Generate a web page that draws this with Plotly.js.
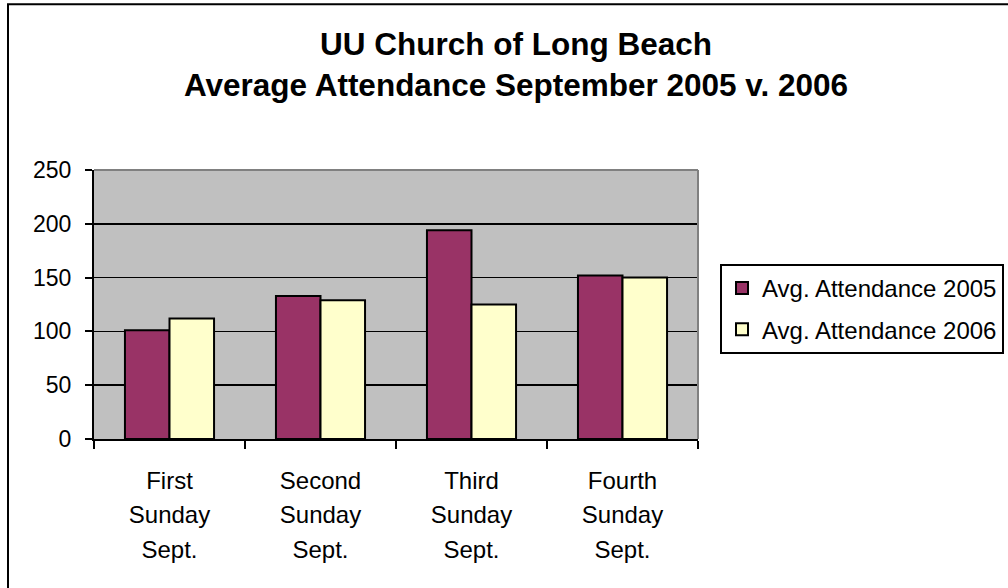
<!DOCTYPE html>
<html>
<head>
<meta charset="utf-8">
<script src="https://cdn.plot.ly/plotly-3.0.1.min.js"></script>
<style>
  body { margin: 0; background: #fff; }
  #chart { width: 1008px; height: 588px; }
</style>
</head>
<body>
<div id="chart"></div>
<script>
// Sundays in September
let sundays = ["First Sunday Sept.", "Second Sunday Sept.", "Third Sunday Sept.", "Fourth Sunday Sept."];

// average attendance on each Sunday
let attendance2005 = [101, 133, 194, 152];
let attendance2006 = [112, 129, 125, 150];

let seriesNames = ["Avg. Attendance 2005", "Avg. Attendance 2006"];
let yTicks = [0, 50, 100, 150, 200, 250];
let titleLines = ["UU Church of Long Beach", "Average Attendance September 2005 v. 2006"];

// put lines on top of each other; the outer font sets the line gap, the span sets the glyph size
function stack(lines, px) {
    return lines.map(l => '<span style="font-size:' + px + 'px">' + l + '</span>').join('<br>');
}

let xLabels = sundays.map(s => stack(s.split(' '), 24));

let trace1 = {
    x: xLabels,
    y: attendance2005,
    type: 'bar',
    name: seriesNames[0],
    legendgroup: 'a',
    marker: {color: '#993366', line: {color: '#000', width: 2}}
};

let trace2 = {
    x: xLabels,
    y: attendance2006,
    type: 'bar',
    name: seriesNames[1],
    legendgroup: 'b',
    marker: {color: '#ffffcc', line: {color: '#000', width: 2}}
};

var data = [trace1, trace2];

// plot area in pixels: x 94..698, y 170..439
var layout = {
    width: 1008,
    height: 588,
    margin: {l: 94, r: 310, t: 170, b: 149, autoexpand: false},
    paper_bgcolor: '#fff',
    plot_bgcolor: '#c0c0c0',
    font: {family: 'Liberation Sans, Arial, sans-serif', color: '#000', size: 22},
    title: {
        text: titleLines.join('<br>'),
        font: {size: 31.5, weight: 'bold'},
        x: 516 / 1008,
        xanchor: 'center',
        xref: 'container',
        yref: 'container',
        y: 1 - 55 / 588,
        yanchor: 'top'
    },
    barmode: 'group',
    bargap: 0.41,
    bargroupgap: 0,
    xaxis: {
        type: 'category',
        tickson: 'boundaries',
        ticks: 'outside',
        ticklen: 8,
        tickwidth: 2,
        tickcolor: '#000',
        showline: true,
        linecolor: '#000',
        linewidth: 2,
        showgrid: false,
        tickfont: {size: 26.5},
        ticklabelstandoff: 16
    },
    yaxis: {
        range: [0, 250],
        tickvals: yTicks,
        ticks: 'outside',
        ticklen: 7,
        tickwidth: 2,
        tickcolor: '#000',
        showline: true,
        linecolor: '#000',
        linewidth: 2,
        gridcolor: '#000',
        gridwidth: 1.5,
        zeroline: false,
        tickfont: {size: 23},
        ticklabelstandoff: 9
    },
    legend: {
        x: (720 - 94) / 604,
        y: (439 - 264) / 269,
        xanchor: 'left',
        yanchor: 'top',
        bgcolor: '#fff',
        bordercolor: '#000',
        borderwidth: 2,
        font: {size: 24},
        traceorder: 'grouped',
        tracegroupgap: 7
    },
    shapes: [
        // grey top and right edge of the plot area
        {type: 'line', xref: 'paper', yref: 'paper', x0: 0, x1: 1, y0: 1, y1: 1, line: {color: '#808080', width: 2}},
        {type: 'line', xref: 'paper', yref: 'paper', x0: 1, x1: 1, y0: 0, y1: 1, line: {color: '#808080', width: 2}},
        // chart frame, runs off the right and bottom of the page
        {type: 'rect', xref: 'paper', yref: 'paper', x0: (8 - 94) / 604, x1: 2, y0: -1, y1: (439 - 4.3) / 269,
         line: {color: '#000', width: 2}}
    ]
};

Plotly.newPlot('chart', data, layout, {displayModeBar: false, staticPlot: true});
</script>
</body>
</html>
